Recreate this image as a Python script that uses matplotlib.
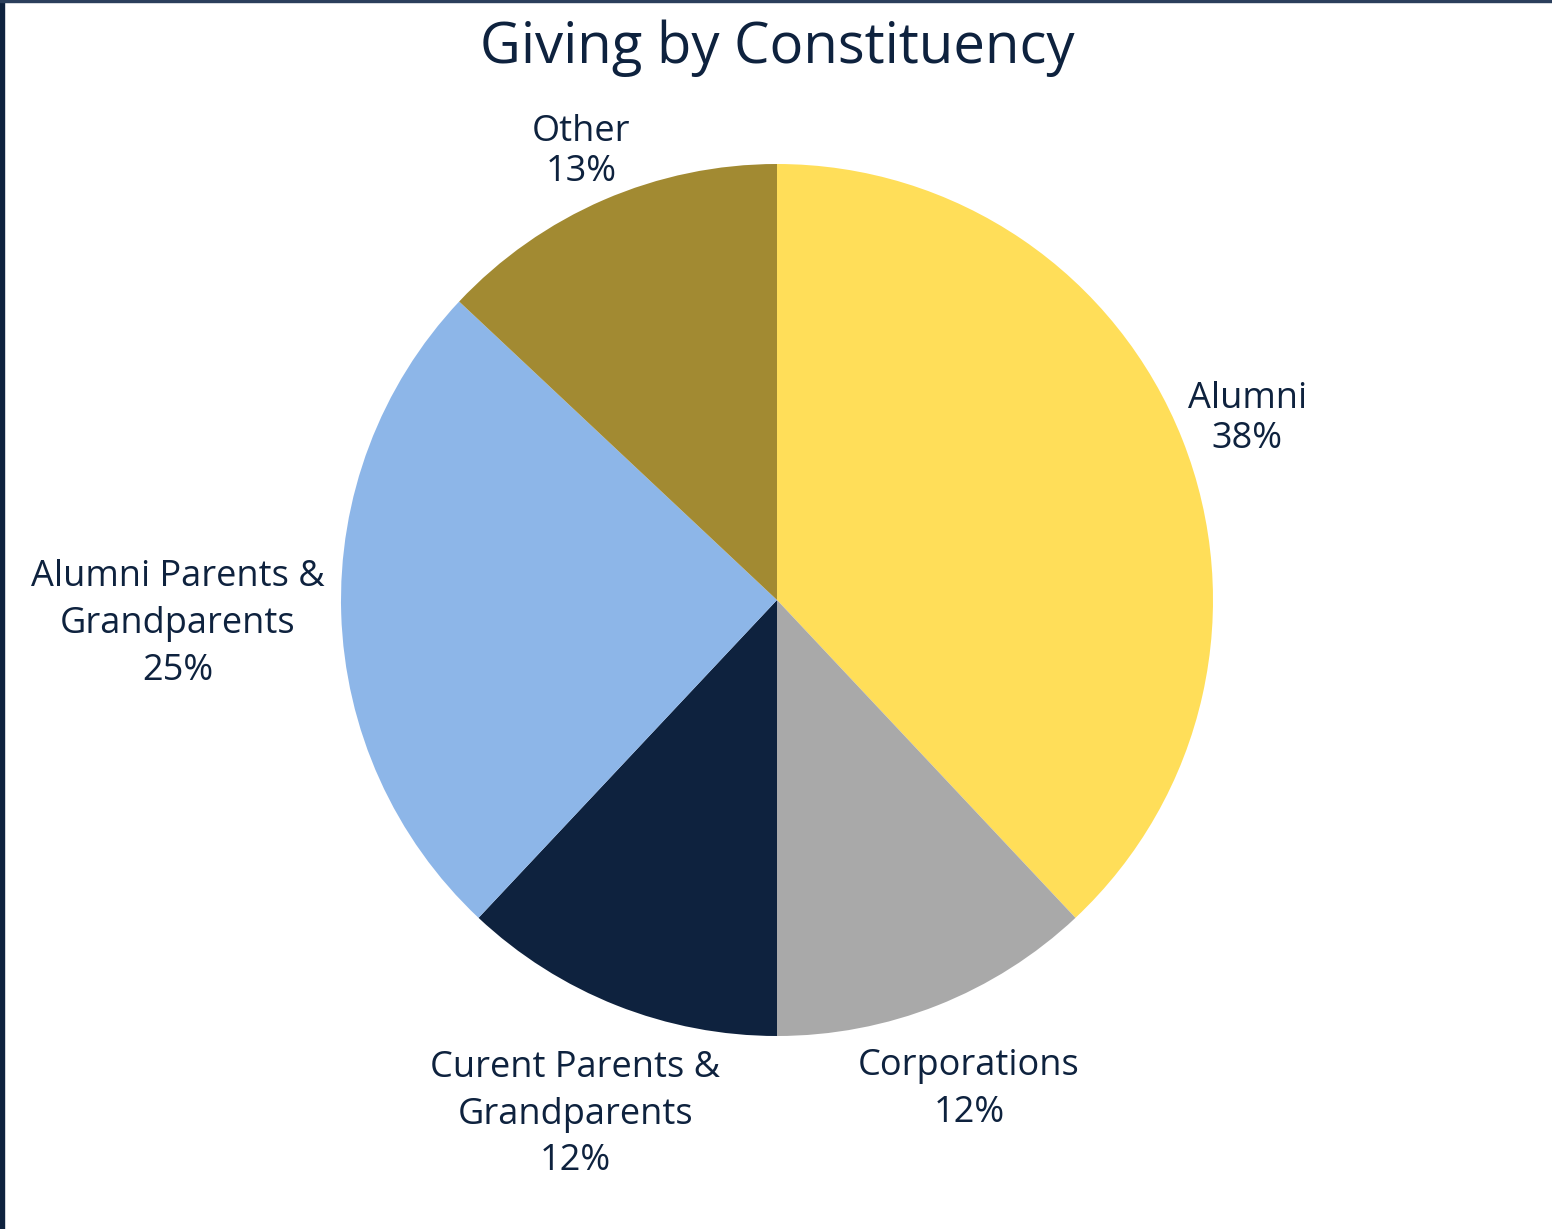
import matplotlib
matplotlib.use("Agg")
import matplotlib.pyplot as plt
from matplotlib.patches import Rectangle
import numpy as np

categories = ["Alumni", "Corporations", "Curent Parents &\nGrandparents",
              "Alumni Parents &\nGrandparents", "Other"]
values = [38, 12, 12, 25, 13]
colors = ["#FFDE59", "#A9A9A9", "#0E223E", "#8DB6E8", "#A28A32"]
title = "Giving by Constituency"

# style: label distances from centre (in radii) and line spacings
label_dist = [1.16, 1.195, 1.257, 1.376, 1.133]
label_spacing = [1.15, 1.4, 1.4, 1.4, 1.15]
text_color = "#0E223E"

plt.rcParams['font.family'] = ['Open Sans', 'DejaVu Sans']

W, H = 1552, 1229
fig = plt.figure(figsize=(W / 100, H / 100), dpi=100)
ax = fig.add_axes([0, 0, 1, 1])

cx, cy, R = 777, 600, 436
wedges, _ = ax.pie(values, colors=colors, startangle=90, counterclock=False,
                   radius=1, center=(0, 0), wedgeprops=dict(linewidth=0))

total = sum(values)
cum = 0
for cat, v, d, ls in zip(categories, values, label_dist, label_spacing):
    mid = cum + v / 2
    cum += v
    ang = np.deg2rad(90 - mid / total * 360)
    ax.text(d * np.cos(ang), d * np.sin(ang) - 5 / R, f"{cat}\n{v}%", ha="center", va="center",
            fontsize=26, color=text_color, linespacing=ls)

ax.text(0, (cy - 48) / R, title, ha="center", va="center", fontsize=40.5, color=text_color)

ax.set_xlim(-cx / R, (W - cx) / R)
ax.set_ylim((cy - H) / R, cy / R)
ax.set_aspect("auto")
ax.axis("off")

fig.patches.append(Rectangle((0, 0), 4 / W, 1, transform=fig.transFigure, color=text_color, zorder=10))
fig.patches.append(Rectangle((0, 1 - 2 / H), 1, 2 / H, transform=fig.transFigure, color="#2B3F5C", zorder=10))

fig.savefig("out.png", dpi=100)
